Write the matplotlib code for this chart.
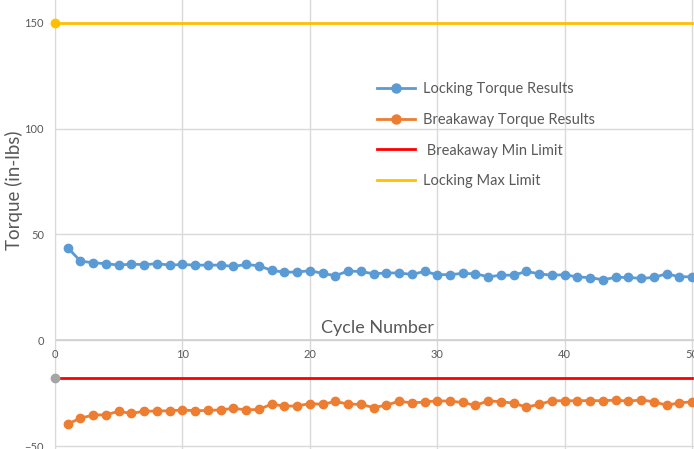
#!/usr/bin/env python3
"""Locking and breakaway torque per cycle, Excel-style line chart."""

import matplotlib

matplotlib.use("Agg")
import matplotlib.pyplot as plt
from matplotlib.lines import Line2D

plt.rcParams["font.family"] = ["Lato", "DejaVu Sans"]

cycles = list(range(1, 51))
locking = [
    43.7, 37.4, 36.6, 36.2, 35.5, 36.0, 35.7, 36.2, 35.5, 35.8,
    35.5, 35.5, 35.5, 34.9, 35.8, 35.2, 33.0, 32.2, 32.2, 32.9,
    31.6, 30.5, 32.7, 32.5, 31.4, 31.8, 31.8, 31.1, 32.5, 31.0,
    31.0, 31.6, 31.4, 30.0, 30.7, 30.8, 32.5, 31.4, 30.7, 31.0,
    29.9, 29.6, 28.6, 29.7, 29.7, 29.2, 29.7, 31.4, 30.0, 30.0,
]
breakaway = [
    -39.6, -36.8, -35.4, -35.2, -33.6, -34.6, -33.5, -33.5, -33.3, -33.0,
    -33.3, -33.2, -32.9, -32.2, -32.9, -32.7, -30.2, -31.1, -31.1, -29.9,
    -30.3, -28.9, -30.2, -30.3, -31.8, -30.7, -28.8, -29.6, -29.2, -28.6,
    -28.8, -29.4, -30.8, -28.6, -29.1, -29.7, -31.6, -30.3, -28.6, -28.6,
    -28.6, -28.5, -28.6, -28.3, -28.8, -28.2, -29.1, -30.7, -29.6, -29.1,
]
limit_x = [0, 50]
breakaway_min = -18
locking_max = 150

x_ticks = [0, 10, 20, 30, 40, 50]
y_ticks = [-50, 0, 50, 100, 150]

BLUE = "#5B9BD5"
ORANGE = "#ED7D31"
RED = "#FF0000"
YELLOW = "#FFC000"
GRID = "#D9D9D9"
TEXT = "#595959"

fig = plt.figure(figsize=(6.94, 4.49), dpi=100)
ax = fig.add_axes([55 / 694, 0, 1 - 55 / 694, 1])

ax.set_xlim(0, 50.15)
ax.set_ylim(-51.4, 160.8)

ax.plot(cycles, locking, color=BLUE, lw=2, marker="o", ms=6, zorder=4)
ax.plot(cycles, breakaway, color=ORANGE, lw=2, marker="o", ms=6, zorder=4)
ax.plot(limit_x, [breakaway_min] * 2, color=RED, lw=2, zorder=3)
ax.plot(limit_x[0], breakaway_min, "o", color="#A5A5A5", ms=6, zorder=5, clip_on=False)
ax.plot(limit_x, [locking_max] * 2, color=YELLOW, lw=2, zorder=3)
ax.plot(limit_x[0], locking_max, "o", color=YELLOW, ms=6, zorder=5, clip_on=False)

ax.set_xticks(x_ticks)
ax.set_yticks(y_ticks)
ax.grid(True, color=GRID, lw=1)
ax.set_axisbelow(True)
for side in ("top", "right", "bottom"):
    ax.spines[side].set_visible(False)
ax.spines["left"].set_color(GRID)
ax.axhline(0, color="#D0D0D0", lw=1.2, zorder=1)
ax.tick_params(length=0, labelsize=8, colors=TEXT, pad=8)
ax.tick_params(axis="x", labelbottom=False)
for x in x_ticks:
    ax.text(x, -4.3, str(x), ha="center", va="top", fontsize=8, color=TEXT)

ax.text(25.3, 2.2, "Cycle Number", ha="center", va="bottom", fontsize=13, color=TEXT)
fig.text(14 / 694, 1 - 190 / 449, "Torque (in-lbs)", rotation=90, ha="center", va="center",
         fontsize=13.5, color=TEXT)
fig.text(262 / 694, 1 + 3 / 449, "Locking and Breakaway Torque by Cycle (in-lbs)", ha="center",
         va="baseline", fontsize=11, color=TEXT)

handles = [
    Line2D([], [], color=BLUE, lw=2, marker="o", ms=6.5),
    Line2D([], [], color=ORANGE, lw=2, marker="o", ms=6.5),
    Line2D([], [], color=RED, lw=2),
    Line2D([], [], color=YELLOW, lw=2),
]
labels = ["Locking Torque Results", "Breakaway Torque Results",
          " Breakaway Min Limit", "Locking Max Limit"]
leg = ax.legend(handles, labels, loc="upper left", bbox_to_anchor=(322 / 639, 1 - 82 / 449),
                frameon=False, fontsize=10.5, labelspacing=1.15, handlelength=2.6,
                handletextpad=0.55, borderaxespad=0, borderpad=0)
for t in leg.get_texts():
    t.set_color(TEXT)

fig.savefig("out.png", dpi=100)
